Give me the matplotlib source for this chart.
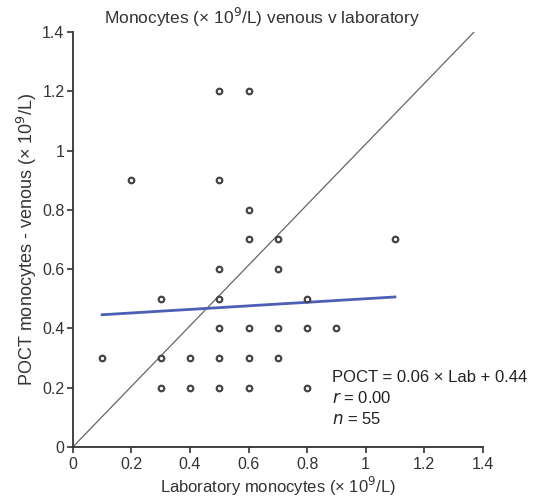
import numpy as np
import matplotlib
matplotlib.use('Agg')
import matplotlib.pyplot as plt

plt.rcParams['font.family'] = ['Liberation Sans', 'DejaVu Sans']

# lab (x) vs POCT venous (y) monocytes, x10^9/L  (distinct points visible)
lab = [0.5, 0.6,
       0.2, 0.5,
       0.6,
       0.6, 0.7, 1.1,
       0.5, 0.7,
       0.3, 0.5, 0.8,
       0.5, 0.6, 0.7, 0.8, 0.9,
       0.1, 0.3, 0.4, 0.5, 0.6, 0.7,
       0.3, 0.4, 0.5, 0.6, 0.8]
poct = [1.2, 1.2,
        0.9, 0.9,
        0.8,
        0.7, 0.7, 0.7,
        0.6, 0.6,
        0.5, 0.5, 0.5,
        0.4, 0.4, 0.4, 0.4, 0.4,
        0.3, 0.3, 0.3, 0.3, 0.3, 0.3,
        0.2, 0.2, 0.2, 0.2, 0.2]

slope = 0.06
intercept = 0.44
r_val = 0.00
n_val = 55

ticks = [0, 0.2, 0.4, 0.6, 0.8, 1.0, 1.2, 1.4]
tick_labels = ['0', '0.2', '0.4', '0.6', '0.8', '1', '1.2', '1.4']

fig = plt.figure(figsize=(5.4, 5.01), dpi=100)
ax = fig.add_axes([0.135, 0.108, 0.759, 0.828])

# line of identity (as drawn in the original, stops just short of the corner)
ax.plot([0, 1.37], [0, 1.4], color='#666666', lw=0.9, zorder=1)

# regression line over range of data
xf = np.array([min(lab), max(lab)])
ax.plot(xf, slope * xf + intercept, color='#4a5fb5', lw=2, zorder=2)

ax.scatter(lab, poct, s=16, facecolors='white', edgecolors='#444444',
           linewidths=1.6, zorder=3)

ax.set_xlim(0, 1.4)
ax.set_ylim(0, 1.4)
ax.set_xticks(ticks)
ax.set_xticklabels(tick_labels)
ax.set_yticks(ticks)
ax.set_yticklabels(tick_labels)
ax.spines['top'].set_visible(False)
ax.spines['right'].set_visible(False)
for s in ['left', 'bottom']:
    ax.spines[s].set_color('#333333')
    ax.spines[s].set_linewidth(1.3)
ax.tick_params(labelsize=11.5, colors='#333333', length=4, width=1.2)
ax.tick_params(axis='y', pad=2)

ax.set_xlabel('Laboratory monocytes (\u00d7 10$^9$/L)', fontsize=12,
              color='#333333', labelpad=2)
ax.set_ylabel('POCT monocytes - venous (\u00d7 10$^9$/L)', fontsize=13,
              color='#333333', labelpad=2)
fig.text(0.485, 0.966, 'Monocytes (\u00d7 10$^9$/L) venous v laboratory',
         ha='center', va='center', fontsize=12.5, color='#333333')

ax.text(0.885, 0.235, 'POCT = %.2f \u00d7 Lab + %.2f' % (slope, intercept),
        fontsize=12, color='#222222', va='center')
ax.text(0.885, 0.165, '$r$ = %.2f' % r_val, fontsize=12, color='#222222',
        va='center')
ax.text(0.885, 0.095, '$n$ = %d' % n_val, fontsize=12, color='#222222',
        va='center')

plt.savefig('out.png', dpi=100)
